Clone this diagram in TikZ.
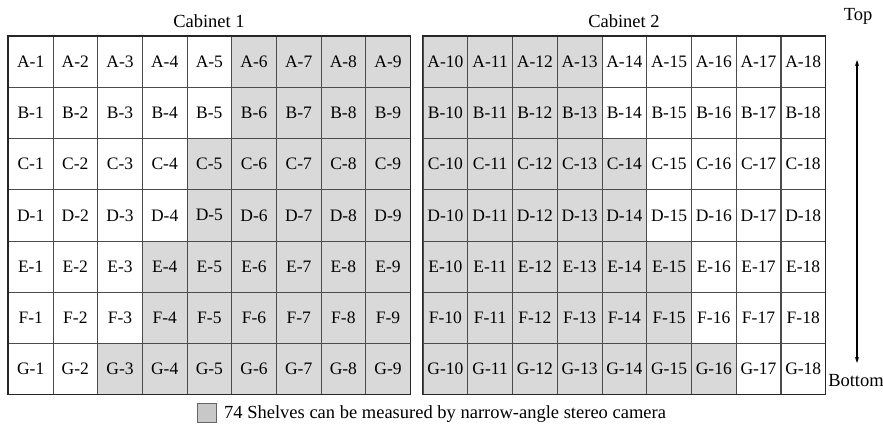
\documentclass[tikz,border=0pt]{standalone}
\usepackage{fontspec}
\setmainfont{Liberation Serif}
\usetikzlibrary{arrows.meta}
\definecolor{shade}{RGB}{217,217,217}
\definecolor{legshade}{RGB}{200,200,200}
\begin{document}
\begin{tikzpicture}[x=1pt,y=-1pt,
  txt/.style={font=\fontsize{18.5}{21}\selectfont, inner sep=0pt},
  celltxt/.style={font=\fontsize{17.5}{20}\selectfont, inner sep=0pt},
  cell/.style={celltxt, draw=black!70, line width=0.7pt, minimum width=44.67pt, minimum height=51.14pt, anchor=north west},
  frame/.style={draw=black!85, line width=1.1pt},
  arr/.style={{Stealth[length=6pt,width=4pt]}-{Stealth[length=6pt,width=4pt]}, line width=1.3pt}]
\useasboundingbox (0,0) rectangle (883,424);
\foreach \r/\L in {0/A,1/B,2/C,3/D,4/E,5/F,6/G} {
  \pgfmathtruncatemacro{\s}{6-floor(\r/2)}
  \pgfmathtruncatemacro{\e}{13+floor(\r/2)}
  \foreach \c in {1,...,9} {
    \ifnum\c<\s \def\f{white}\else\def\f{shade}\fi
    \node[cell, fill=\f] (\L\c) at ({8+(\c-1)*44.67},{36+\r*51.14}) {\L-\c};
  }
  \foreach \c in {10,...,18} {
    \ifnum\c>\e \def\f{white}\else\def\f{shade}\fi
    \node[cell, fill=\f] (\L\c) at ({422.7+(\c-10)*44.73},{36+\r*51.14}) {\L-\c};
  }
}
\draw[frame] (A1.north west) rectangle (G9.south east);
\draw[frame] (A10.north west) rectangle (G18.south east);
\node[txt] (cab1) at (209,21) {Cabinet 1};
\node[txt] (cab2) at (624,21) {Cabinet 2};
\node[txt] (top) at (858,16) {Top};
\node[txt] (bottom) at (856,381) {Bottom};
\coordinate (ta) at (857,60);
\coordinate (ba) at (857,363);
\draw[arr] (ta) -- (ba);
\node[draw=black!60, line width=0.7pt, fill=legshade, minimum width=19pt, minimum height=19pt, inner sep=0pt] (leg) at (207,413) {};
\node[txt, anchor=west] (legtext) at (224,414.5) {74 Shelves can be measured by narrow-angle stereo camera};
\end{tikzpicture}
\end{document}
